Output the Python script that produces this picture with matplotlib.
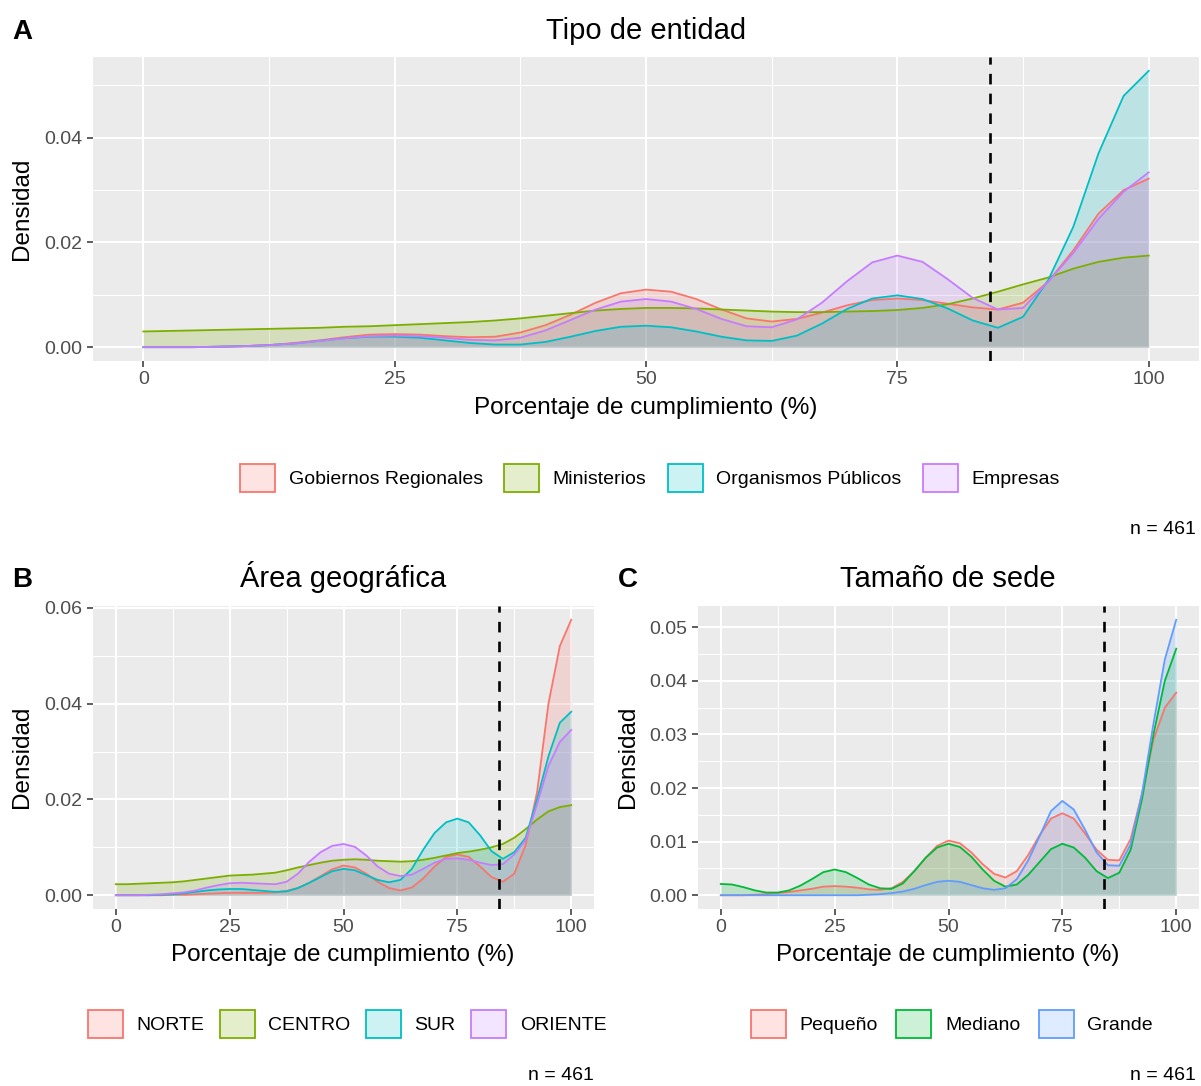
import numpy as np
import matplotlib.pyplot as plt
from matplotlib.patches import Patch
from matplotlib.colors import to_rgba
from matplotlib.ticker import MultipleLocator, FormatStrFormatter
from matplotlib.transforms import Bbox, TransformedBbox

plt.rcParams['font.family'] = ['Liberation Sans', 'DejaVu Sans']

# x positions where the density curves were read (percentage of compliance)
pct = [0, 2.5, 5, 7.5, 10, 12.5, 15, 17.5, 20, 22.5, 25, 27.5, 30, 32.5, 35, 37.5,
       40, 42.5, 45, 47.5, 50, 52.5, 55, 57.5, 60, 62.5, 65, 67.5, 70, 72.5, 75,
       77.5, 80, 82.5, 85, 87.5, 90, 92.5, 95, 97.5, 100]

threshold = 84.2
n_total = 461

# --- A: Tipo de entidad
labels_a = ["Gobiernos Regionales", "Ministerios", "Organismos Públicos", "Empresas"]
gob_reg = [0, 0, 0, .0001, .0002, .0004, .0008, .0013, .0019, .0024, .0025,
           .0024, .0021, .0019, .0020, .0028, .0042, .0062, .0085, .0103, .0110,
           .0106, .0092, .0072, .0055, .0049, .0054, .0066, .0080, .0090, .0093,
           .0090, .0083, .0076, .0072, .0085, .0125, .0185, .0255, .0300, .0322]
ministerios = [.0030, .0031, .0032, .0033, .0034, .0035, .0036, .0037, .0039, .0040, .0042,
               .0044, .0046, .0048, .0051, .0055, .0060, .0065, .0070, .0073, .0075,
               .0075, .0074, .0072, .0070, .0068, .0067, .0067, .0068, .0069, .0071,
               .0075, .0082, .0093, .0106, .0120, .0133, .0150, .0163, .0171, .0175]
org_publicos = [0, 0, 0, .0001, .0002, .0004, .0007, .0012, .0017, .0020, .0020,
                .0018, .0013, .0008, .0005, .0005, .0010, .0020, .0031, .0039, .0041,
                .0038, .0030, .0020, .0013, .0012, .0022, .0045, .0073, .0093, .0099,
                .0092, .0074, .0051, .0037, .0058, .0128, .0230, .0370, .0480, .0528]
empresas = [0, 0, 0, .0001, .0002, .0004, .0007, .0012, .0017, .0021, .0022,
            .0021, .0018, .0014, .0013, .0018, .0032, .0052, .0072, .0087, .0092,
            .0087, .0073, .0054, .0040, .0038, .0053, .0085, .0126, .0162, .0175,
            .0163, .0130, .0094, .0072, .0075, .0125, .0180, .0245, .0297, .0334]

# --- B: Área geográfica
labels_b = ["NORTE", "CENTRO", "SUR", "ORIENTE"]
norte = [0, 0, 0, 0, 0, .0001, .0001, .0002, .0003, .0004, .0005,
         .0005, .0005, .0005, .0006, .0009, .0015, .0026, .0040, .0054, .0062,
         .0058, .0045, .0028, .0015, .0010, .0016, .0035, .0060, .0080, .0085,
         .0080, .0060, .0038, .0028, .0045, .0105, .0215, .0400, .0520, .0575]
centro = [.0023, .0023, .0024, .0025, .0026, .0027, .0029, .0032, .0035, .0038, .0041,
          .0042, .0043, .0045, .0047, .0052, .0058, .0063, .0068, .0072, .0074,
          .0075, .0074, .0072, .0071, .0070, .0071, .0074, .0078, .0083, .0088,
          .0091, .0095, .0100, .0107, .0120, .0138, .0158, .0175, .0184, .0188]
sur = [0, 0, 0, 0, .0001, .0002, .0004, .0007, .0010, .0012, .0013,
       .0013, .0011, .0009, .0007, .0008, .0015, .0026, .0038, .0050, .0055,
       .0052, .0042, .0032, .0027, .0032, .0055, .0095, .0130, .0152, .0160,
       .0152, .0125, .0092, .0076, .0090, .0120, .0200, .0290, .0360, .0383]
oriente = [0, 0, 0, .0001, .0002, .0004, .0006, .0010, .0016, .0021, .0025,
           .0026, .0025, .0024, .0023, .0028, .0045, .0070, .0090, .0103, .0107,
           .0101, .0083, .0060, .0045, .0040, .0043, .0055, .0068, .0076, .0077,
           .0074, .0068, .0063, .0065, .0085, .0115, .0190, .0270, .0320, .0345]

# --- C: Tamaño de sede
labels_c = ["Pequeño", "Mediano", "Grande"]
pequeno = [0, 0, 0, .0001, .0002, .0004, .0006, .0009, .0012, .0016, .0017,
           .0016, .0014, .0011, .0010, .0013, .0025, .0045, .0070, .0092, .0102,
           .0097, .0080, .0058, .0040, .0033, .0045, .0075, .0112, .0143, .0153,
           .0143, .0115, .0085, .0066, .0065, .0105, .0190, .0290, .0350, .0378]
mediano = [.0021, .0020, .0015, .0009, .0005, .0005, .0009, .0018, .0030, .0043, .0048,
           .0043, .0032, .0020, .0013, .0012, .0022, .0045, .0070, .0089, .0096,
           .0090, .0072, .0048, .0027, .0016, .0020, .0038, .0062, .0086, .0096,
           .0089, .0070, .0045, .0032, .0042, .0085, .0180, .0300, .0400, .0460]
grande = [0, 0, 0, 0, 0, 0, 0, 0, 0, 0, 0,
          0, 0, .0001, .0002, .0004, .0007, .0012, .0019, .0025, .0027,
          .0025, .0019, .0013, .0010, .0013, .0030, .0065, .0110, .0157, .0176,
          .0160, .0122, .0080, .0056, .0055, .0095, .0190, .0320, .0440, .0514]

hue4 = ["#F8766D", "#7CAE00", "#00BFC4", "#C77CFF"]
hue3 = ["#F8766D", "#00BA38", "#619CFF"]

W, H = 1201, 1086
fig = plt.figure(figsize=(W / 100, H / 100), dpi=100)


def box(l, t, r, b):
    return [l / W, 1 - b / H, (r - l) / W, (b - t) / H]


def density_panel(rect, series, colors, ystep):
    ax = fig.add_axes(box(*rect))
    ax.set_facecolor("#EBEBEB")
    for vals, col in zip(series, colors):
        ax.fill_between(pct, vals, color=col, alpha=0.2, lw=0)
        ax.plot(pct, vals, color=col, lw=1.3)
    ax.axvline(threshold, color="black", lw=1.9, ls=(0, (4, 3.5)))
    top = max(max(s) for s in series)
    ax.set_xlim(-5, 105)
    ax.set_ylim(-0.05 * top, 1.05 * top)
    ax.xaxis.set_major_locator(MultipleLocator(25))
    ax.xaxis.set_minor_locator(MultipleLocator(12.5))
    ax.yaxis.set_major_locator(MultipleLocator(ystep))
    ax.yaxis.set_minor_locator(MultipleLocator(ystep / 2))
    ax.yaxis.set_major_formatter(FormatStrFormatter("%.2f"))
    ax.grid(which="major", color="white", lw=1.5)
    ax.grid(which="minor", color="white", lw=0.75)
    ax.set_axisbelow(True)
    for s in ax.spines.values():
        s.set_visible(False)
    ax.tick_params(which="major", length=4.5, width=1.1, color="#333333",
                   labelsize=14, labelcolor="#4D4D4D", pad=3)
    ax.tick_params(which="minor", length=0)
    return ax


def legend(labels, colors, cx, cy, colsp=1.1):
    handles = [Patch(facecolor=to_rgba(c, 0.2), edgecolor=c, lw=1.3) for c in colors]
    return fig.legend(handles, labels, ncol=len(labels), loc="center",
                      bbox_to_anchor=(cx / W, 1 - cy / H), frameon=False,
                      fontsize=14, handlelength=1.8, handleheight=1.8,
                      handletextpad=0.7, columnspacing=colsp, borderpad=0)


def ftext(x, y, s, **kw):
    fig.text(x / W, 1 - y / H, s, **kw)


# Panel A
density_panel((93, 57, 1199, 361), [gob_reg, ministerios, org_publicos, empresas], hue4, 0.02)
ftext(12, 39, "A", fontsize=20, fontweight="bold", va="baseline")
ftext(646, 39, "Tipo de entidad", fontsize=21, ha="center", va="baseline")
ftext(646, 408, "Porcentaje de cumplimiento (%)", fontsize=17.5, ha="center", va="center")
ftext(22, 209, "Densidad", fontsize=17.5, rotation=90, ha="center", va="center")
legend(labels_a, hue4, 650, 478, colsp=1.1)
ftext(1196, 530, f"n = {n_total}", fontsize=14, ha="right", va="center")

# Panel B
density_panel((93, 606, 594, 909), [norte, centro, sur, oriente], hue4, 0.02)
ftext(12, 587, "B", fontsize=20, fontweight="bold", va="baseline")
ftext(343, 587, "Área geográfica", fontsize=21, ha="center", va="baseline")
ftext(343, 955, "Porcentaje de cumplimiento (%)", fontsize=17.5, ha="center", va="center")
ftext(22, 757, "Densidad", fontsize=17.5, rotation=90, ha="center", va="center")
leg_b = legend(labels_b, hue4, 347, 1024, colsp=0.8)
# ggplot clips this legend at the edge of its sub-figure
clip = TransformedBbox(Bbox.from_extents(0, 0, 606 / W, 1), fig.transFigure)
for t in leg_b.get_texts():
    t.set_clip_box(clip)
    t.set_clip_on(True)
ftext(594, 1075, f"n = {n_total}", fontsize=14, ha="right", va="center")

# Panel C
density_panel((698, 606, 1199, 909), [pequeno, mediano, grande], hue3, 0.01)
ftext(618, 587, "C", fontsize=20, fontweight="bold", va="baseline")
ftext(948, 587, "Tamaño de sede", fontsize=21, ha="center", va="baseline")
ftext(948, 955, "Porcentaje de cumplimiento (%)", fontsize=17.5, ha="center", va="center")
ftext(628, 757, "Densidad", fontsize=17.5, rotation=90, ha="center", va="center")
legend(labels_c, hue3, 952, 1024, colsp=0.95)
ftext(1196, 1075, f"n = {n_total}", fontsize=14, ha="right", va="center")

fig.savefig("out.png", dpi=100)
